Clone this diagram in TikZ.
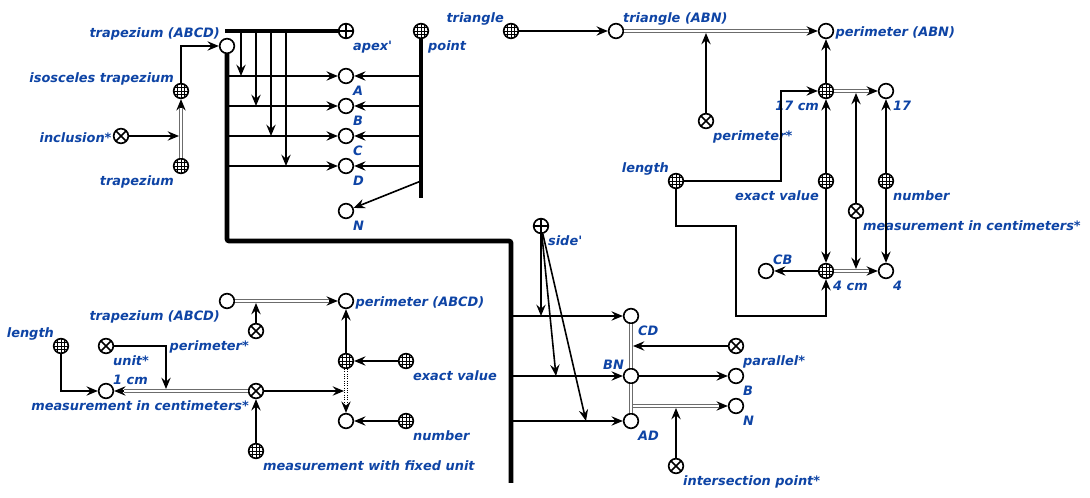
\documentclass[tikz,border=0pt]{standalone}
\usepackage{fontspec}
\setmainfont{DejaVu Sans}
\usetikzlibrary{arrows.meta, positioning}
\definecolor{lblblue}{RGB}{14,68,165}

\begin{document}
\begin{tikzpicture}[
    x=0.75pt, y=-0.75pt,
    font=\fontsize{9.7}{11}\selectfont\bfseries\itshape,
    elem/.style={circle, draw, line width=1.25pt, minimum size=11pt, inner sep=0pt, fill=white},
    cls/.style={elem, path picture={
        \foreach \t in {-2.7pt,0pt,2.7pt}{
          \draw[line width=0.6pt] (path picture bounding box.center) ++(\t,-6pt) -- ++(0,12pt);
          \draw[line width=0.6pt] (path picture bounding box.center) ++(-6pt,\t) -- ++(12pt,0);}}},
    norole/.style={elem, path picture={
        \draw[line width=1.2pt] (path picture bounding box.south west) -- (path picture bounding box.north east)
                                (path picture bounding box.north west) -- (path picture bounding box.south east);}},
    role/.style={elem, path picture={
        \draw[line width=1.1pt] (path picture bounding box.north) -- (path picture bounding box.south)
                                (path picture bounding box.west) -- (path picture bounding box.east);}},
    lbl/.style={text=lblblue, inner xsep=0.8pt, inner ysep=1.5pt, yshift=-1.5pt},
    every label/.style={lbl},
    label distance=0pt,
    arr/.style={-{Stealth[length=8.5pt, width=7pt, inset=3pt]}, line width=1.2pt},
    pairline/.style={draw=gray!85!black, double=white, double distance=1.1pt, line width=0.75pt},
    pair/.style={arr, postaction={pairline, -, shorten >=7pt}},
    dpair/.style={arr, draw=white, -{Stealth[length=8.5pt, width=7pt, inset=3pt, black]},
                  postaction={pairline, draw=black, -, densely dotted, shorten >=7pt}},
    bus/.style={line width=3.5pt, rounded corners=1.5pt},
]
\useasboundingbox (0,0) rectangle (1090,498);

% upper left
\node[elem,   label={above left:trapezium (ABCD)}]    (trapTop) at (227,46)  {};
\node[cls,    label={above left:isosceles trapezium}] (isoTrap) at (181,91)  {};
\node[norole, label={left:inclusion*}]                (incl)    at (121,136) {};
\node[cls,    label={below left:trapezium}]           (trap)    at (181,166) {};
\node[role,   label={below right:apex\textquotesingle}] (apex)  at (346,31)  {};
\node[cls,    label={below right:point}]              (point)   at (421,31)  {};
\node[elem,   label={below right:A}]                  (ptA)     at (346,76)  {};
\node[elem,   label={below right:B}]                  (ptB)     at (346,106) {};
\node[elem,   label={below right:C}]                  (ptC)     at (346,136) {};
\node[elem,   label={below right:D}]                  (ptD)     at (346,166) {};
\node[elem,   label={below right:N}]                  (ptN)     at (346,211) {};

\coordinate (busTopL)  at (225,31);
\coordinate (pointEnd) at (421,198);
\coordinate (pointTap) at (421,181);
\coordinate (busBend)  at (511,241);
\coordinate (busEnd)   at (511,483);

\draw[bus] (busTopL) -- (apex);
\draw[bus] (trapTop.south) |- (busBend) -- (busEnd);
\draw[bus] (point.south) -- (pointEnd);

\draw[pair] (trap) -- (isoTrap);
\draw[arr, shorten >=1.5pt] (incl) -- (trap |- incl);
\draw[arr] (isoTrap) |- (trapTop);

\foreach \x/\n in {241/ptA, 256/ptB, 271/ptC, 286/ptD} {
  \draw[arr] (\x,31) -- (\x,0 |- \n);
  \draw[arr] (trapTop |- \n) -- (\n);
  \draw[arr] (point |- \n) -- (\n);
}
\draw[arr] (pointTap) -- (ptN);

% triangle
\node[cls,    label={above left:triangle}]         (tri)    at (511,31)  {};
\node[elem,   label={above right:triangle (ABN)}]  (triABN) at (616,31)  {};
\node[elem,   label={right:perimeter (ABN)}]       (perABN) at (826,31)  {};
\node[norole, label={below right:perimeter*}]      (perT)   at (706,121) {};
\node[cls,    label={below left:17 cm}]            (cm17)   at (826,91)  {};
\node[elem,   label={below right:17}]              (n17)    at (886,91)  {};
\node[cls,    label={above left:length}]           (len)    at (676,181) {};
\node[cls,    label={below left:exact value}]      (exT)    at (826,181) {};
\node[cls,    label={below right:number}]          (numT)   at (886,181) {};
\node[norole, label={below right:measurement in centimeters*}] (measT) at (856,211) {};
\node[elem,   label={above right:CB}]              (cb)     at (766,271) {};
\node[cls,    label={below right:4 cm}]            (cm4)    at (826,271) {};
\node[elem,   label={below right:4}]               (n4)     at (886,271) {};

\coordinate (lenBend) at (781,181);
\coordinate (lenStepA) at (736,226);
\coordinate (lenStepB) at (826,316);

\draw[arr] (tri) -- (triABN);
\draw[pair] (triABN) -- (perABN);
\draw[arr, shorten >=1.5pt] (perT) -- (perT |- triABN);
\draw[arr] (cm17) -- (perABN);
\draw[pair] (cm17) -- (n17);
\draw[pair] (cm4) -- (n4);
\draw[arr] (len) -- (lenBend) |- (cm17);
\draw[arr] (len) |- (lenStepA) |- (lenStepB) -- (cm4);
\draw[arr] (exT) -- (cm17);
\draw[arr] (exT) -- (cm4);
\draw[arr] (numT) -- (n17);
\draw[arr] (numT) -- (n4);
\draw[arr, shorten >=1.5pt] (measT) -- (measT |- cm17);
\draw[arr, shorten >=1.5pt] (measT) -- (measT |- cm4);
\draw[arr] (cm4) -- (cb);

% sides
\node[role,   label={below right:side\textquotesingle}] (side) at (541,226) {};
\node[elem,   label={below right:CD}]                 (cd)    at (631,316) {};
\node[elem,   label={above left:BN}]                  (bn)    at (631,376) {};
\node[elem,   label={below right:AD}]                 (ad)    at (631,421) {};
\node[norole, label={below right:parallel*}]          (par)   at (736,346) {};
\node[elem,   label={below right:B}]                  (bB)    at (736,376) {};
\node[elem,   label={below right:N}]                  (bN)    at (736,406) {};
\node[norole, label={below right:intersection point*}] (inter) at (676,466) {};

\foreach \n in {cd, bn, ad}
  \draw[arr] (busEnd |- \n) -- (\n);
\draw[arr] (side) -- (side |- cd);
\draw[arr] (side) -- (556,376);
\draw[arr] (side) -- (586,421);
\draw[pair] (ad |- bN) -- (bN);
\draw[pairline] (cd) -- (bn);
\draw[pairline] (bn) -- (ad);
\draw[arr, shorten >=1.5pt] (par) -- (cd |- par);
\draw[arr] (bn) -- (bB);
\draw[arr, shorten >=1.5pt] (inter) -- (inter |- bN);

% lower left
\node[elem,   label={below left:trapezium (ABCD)}]   (trapBot) at (227,301) {};
\node[elem,   label={right:perimeter (ABCD)}]        (perABCD) at (346,301) {};
\node[norole, label={below left:perimeter*}]         (perB)    at (256,331) {};
\node[cls]                                           (exG)     at (346,361) {};
\node[cls,    label={below right:exact value}]       (exB)     at (406,361) {};
\node[elem]                                          (numC)    at (346,421) {};
\node[cls,    label={below right:number}]            (numB)    at (406,421) {};
\node[cls,    label={above left:length}]             (lenB)    at (61,346)  {};
\node[norole, label={below right:unit*}]             (unit)    at (106,346) {};
\node[elem,   label={above right:1 cm}]              (cm1)     at (106,391) {};
\node[norole, label={below left:measurement in centimeters*}] (measB) at (256,391) {};
\node[cls,    label={below right:measurement with fixed unit}] (fixed) at (256,451) {};

\coordinate (unitDrop) at (166,391);

\draw[pair] (trapBot) -- (perABCD);
\draw[arr, shorten >=1.5pt] (perB) -- (perB |- trapBot);
\draw[arr] (exG) -- (perABCD);
\draw[arr] (exB) -- (exG);
\draw[arr] (numB) -- (numC);
\draw[dpair] (exG) -- (numC);
\draw[pair] (measB) -- (cm1);
\draw[arr, shorten >=1.5pt] (measB) -- (exG |- measB);
\draw[arr] (fixed) -- (measB);
\draw[arr] (lenB) |- (cm1);
\draw[arr, shorten >=1.5pt] (unit) -| (unitDrop);
\end{tikzpicture}
\end{document}
